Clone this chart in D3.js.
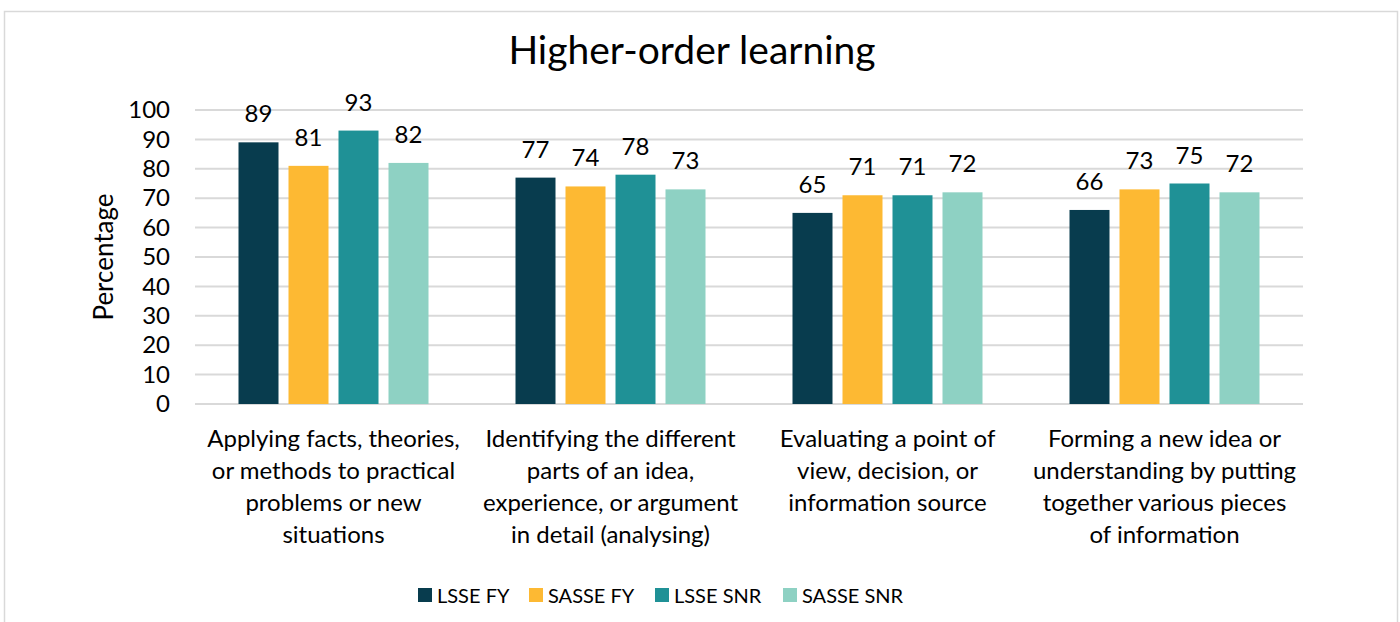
<!DOCTYPE html>
<html>
<head>
<meta charset="utf-8">
<script src="https://cdn.jsdelivr.net/npm/d3@7"></script>
<style>
  body { margin: 0; background: #fff; }
  text { font-family: Lato, "Open Sans", sans-serif; fill: #000; }
</style>
</head>
<body>
<div id="chart"></div>
<script>
const width = 1400;
const height = 622;

// Dados do gráfico
const categories = [
    ["Applying facts, theories,", "or methods to practical", "problems or new", "situations"],
    ["Identifying the different", "parts of an idea,", "experience, or argument", "in detail (analysing)"],
    ["Evaluating a point of", "view, decision, or", "information source"],
    ["Forming a new idea or", "understanding by putting", "together various pieces", "of information"]
];
const seriesNames = ["LSSE FY", "SASSE FY", "LSSE SNR", "SASSE SNR"];
const seriesColors = ["#083c4e", "#fdb933", "#1f9196", "#8ed1c3"];
const lsseFy = [89, 77, 65, 66];
const sasseFy = [81, 74, 71, 73];
const lsseSnr = [93, 78, 71, 75];
const sasseSnr = [82, 73, 72, 72];
const yTicks = [0, 10, 20, 30, 40, 50, 60, 70, 80, 90, 100];

const seriesValues = [lsseFy, sasseFy, lsseSnr, sasseSnr];

const svg = d3.select("#chart").append("svg")
    .attr("width", width)
    .attr("height", height);

// Borda do gráfico
svg.append("rect")
    .attr("x", 4.5).attr("y", 11.5)
    .attr("width", 1393).attr("height", 620)
    .attr("fill", "none")
    .attr("stroke", "#d9d9d9")
    .attr("stroke-width", 1.5);

// Título
svg.append("text")
    .attr("x", 692).attr("y", 64)
    .attr("text-anchor", "middle")
    .attr("font-size", 39)
    .text("Higher-order learning");

const plot = { left: 195, right: 1303, top: 110, bottom: 404 };

const x0 = d3.scaleBand()
    .domain(d3.range(categories.length))
    .range([plot.left, plot.right]);

const x1 = d3.scaleBand()
    .domain(d3.range(seriesNames.length))
    .range([-100, 100])
    .paddingInner(0.2)
    .paddingOuter(0.1);

const y = d3.scaleLinear()
    .domain([0, 100])
    .range([plot.bottom, plot.top]);

// Linhas de grade
svg.append("g")
    .selectAll("line")
    .data(yTicks)
    .enter().append("line")
    .attr("x1", plot.left).attr("x2", plot.right)
    .attr("y1", d => y(d)).attr("y2", d => y(d))
    .attr("stroke", "#d9d9d9")
    .attr("stroke-width", 2);

// Eixo Y
const yAxis = svg.append("g")
    .attr("transform", `translate(${plot.left - 25},0)`)
    .call(d3.axisLeft(y).tickValues(yTicks).tickSize(0).tickPadding(0));
yAxis.select(".domain").remove();
yAxis.selectAll("text")
    .attr("font-size", 24)
    .attr("font-family", "Lato, 'Open Sans', sans-serif")
    .attr("fill", "#000");

svg.append("text")
    .attr("transform", "translate(113,257) rotate(-90)")
    .attr("text-anchor", "middle")
    .attr("font-size", 26)
    .text("Percentage");

// Barras
const rows = [];
categories.forEach((c, i) => {
    seriesValues.forEach((vals, s) => rows.push({ cat: i, s: s, v: vals[i] }));
});

const barX = d => x0(d.cat) + x0.bandwidth() / 2 + x1(d.s);

svg.append("g")
    .selectAll("rect")
    .data(rows)
    .enter().append("rect")
    .attr("x", barX)
    .attr("y", d => y(d.v))
    .attr("width", x1.bandwidth())
    .attr("height", d => y(0) - y(d.v))
    .attr("fill", d => seriesColors[d.s]);

// Rótulos de valor
svg.append("g")
    .selectAll("text")
    .data(rows)
    .enter().append("text")
    .attr("x", d => barX(d) + x1.bandwidth() / 2)
    .attr("y", d => y(d.v) - 20)
    .attr("text-anchor", "middle")
    .attr("font-size", 24)
    .text(d => d.v);

// Rótulos das categorias
const catLabels = svg.append("g")
    .selectAll("text")
    .data(categories)
    .enter().append("text")
    .attr("x", (d, i) => x0(i) + x0.bandwidth() / 2)
    .attr("y", 447)
    .attr("text-anchor", "middle")
    .attr("font-size", 24);

catLabels.selectAll("tspan")
    .data(d => d)
    .enter().append("tspan")
    .attr("x", function () { return d3.select(this.parentNode).attr("x"); })
    .attr("dy", (d, i) => i === 0 ? 0 : 32)
    .text(d => d);

// Legenda
const legendX = [418, 529, 655, 783];
const legend = svg.append("g")
    .selectAll("g")
    .data(seriesNames)
    .enter().append("g")
    .attr("transform", (d, i) => `translate(${legendX[i]},588)`);

legend.append("rect")
    .attr("width", 14).attr("height", 14)
    .attr("fill", (d, i) => seriesColors[i]);

legend.append("text")
    .attr("x", 19).attr("y", 14.5)
    .attr("font-size", 20)
    .text(d => d);
</script>
</body>
</html>
